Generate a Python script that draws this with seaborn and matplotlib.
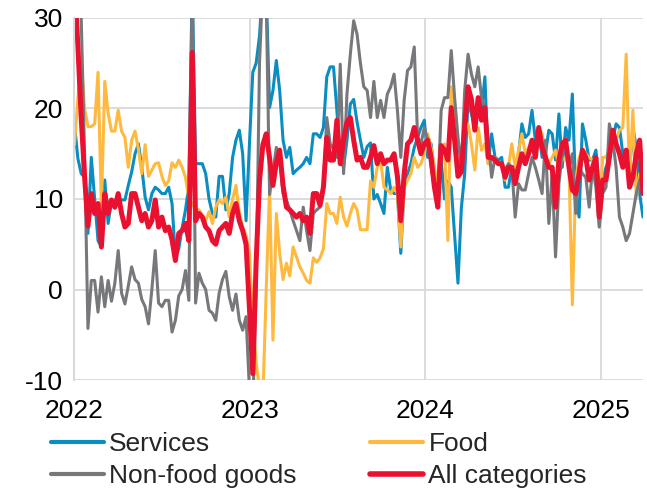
import numpy as np
import pandas as pd
import matplotlib
matplotlib.use("Agg")
import matplotlib.pyplot as plt
import seaborn as sns

# ---- data (weekly, % y/y) ----
start_date = "2022-01-01"
n_weeks = 170

services = [
    18.3, 14.5, 12.8, 12.4, 6.2, 14.6, 10, 5.4, 4.7, 12.1, 7.3, 9.9, 9, 10, 9.9, 9.9, 11.5, 13, 15, 16.1,
    13.5, 10.2, 8.8, 10.6, 11.3, 11, 10.6, 10.6, 11.3,
    9.5, 3.5, 4.5, 6.8, 8.8, 11.5, 34, 13.9, 13.9, 13.9, 12.8, 10, 8.4, 8, 12.5, 12.5, 8.8,
    10.6, 14.6, 16.5, 17.6, 15, 7.6, 16, 24, 25, 28, 34, 33, 20.1, 22, 25.3, 22, 16.5, 14.6, 15.7, 12.8, 13.2,
    13.5, 13.9, 14.6, 13.9, 17.2, 17.2, 16.8, 17.9, 23.5, 24.6, 24.6, 19.8, 14.3, 13.5, 16.5, 20.5, 21, 18.5,
    16.5, 14.6, 15.8, 16.2, 10, 10.5, 9.5, 8.4, 13.5, 11, 10.6, 10.6, 4, 11.3, 12.8, 13.9, 15.7, 16.8, 17.9, 18.7,
    14.6, 16.1, 12.8, 10, 14.3, 10, 12, 11.3, 6, 0.7,
    9, 12.8, 20.9, 19.4, 17.9, 20.9, 19.8, 23.5, 13.9, 17.2, 14.6, 14.3, 14.6, 11.3, 11.3, 13.5, 12.8, 15,
    18.3, 16.8, 17.2, 19.8, 16.5, 17.9, 14.6, 15, 17.6,
    17.2, 14.3, 19.4, 13.5, 17.9, 16.5, 21.6, 10.6, 8, 18.3, 16.5, 14.3, 14.3, 15.4, 11.3, 12.1, 13.5, 14.3,
    16.5, 18.3, 17.9, 15, 14.3, 13.2, 17.9, 15.7, 10.6, 8,
]

food = [
    16, 21, 25.5, 20, 18, 18, 18.3, 24, 9.1, 23, 19.5, 17.5, 17.5, 19.8, 17.5, 16.8, 13.5, 16.5, 17.5, 15.5,
    12.8, 16, 12.5, 13.2, 13.9, 14, 12.5, 11.5, 12,
    14, 13.5, 14.3, 13.5, 12.4, 10, 9.5, 8.8, 8.8, 8.2, 7.6, 8.6, 7.3, 9.1, 9.9, 9.5, 10.2,
    8, 10, 11.5, 8.5, 6.9, 6, 4, -3, -8, -11, -12, 0, 11.3, -5.6, 8.4, 4, 1.1, 2.9, 1.5, 4.7, 3.6,
    2.5, 1.8, 1, 0.7, 3.5, 3, 3.5, 4.5, 9.5, 8.4, 8.4, 7.3, 10.2, 8, 7, 8.4, 9.5, 8.8,
    6.6, 6.6, 6.6, 12, 11.3, 13.5, 14.3, 11.3, 11, 10.6, 11.3, 10.6, 4.7, 11.3, 12.1, 12.8, 14.6, 13.5, 13.9, 15,
    17.2, 15.7, 13.5, 11.3, 15.7, 16.1, 5.4, 22.4, 19, 12.8,
    14.6, 17.9, 18.3, 16.1, 13.2, 17.9, 15.4, 16.1, 13.9, 14.3, 14.6, 13.9, 13.9, 12.1, 13.5, 16.1, 13.5, 15.4,
    17.2, 15, 15.7, 16.1, 15.7, 17.9, 17.2, 14.6, 13.9,
    14.6, 15.4, 13.5, 14.3, 14.6, 13.5, -1.7, 12, 14.6, 15.4, 15, 14.6, 14.3, 12.8, 6.9, 14.6, 14.6, 15.4,
    16.5, 16.5, 17.6, 17.9, 26, 12.1, 19.8, 10.2, 12.8, 11.3,
]

non_food = [
    34, 34, 30, 15, -4.3, 1, 1, -2.5, 1.4, -1.9, 1, -1.3, 0.7, 4.3, -0.4, -1.6, 0.4, 2.5, 1.1, 0.7,
    -1.1, -1.9, -3.8, 0, 4.3, -1.5, -1.9, -1.2, -1.2,
    -4.7, -3.4, -0.7, 0, 2.1, -1.2, 35, -1.5, 1.8, 0.7, 0, -2.3, -2.6, -3.4, -0.4, 1.1, 2,
    -0.8, -2.3, -0.5, -3.4, -4.5, -3, -11, -13, 0, 25, 34, 32, 10.5, 13, 15.7, 14.6, 10.6, 9.9, 8.8, 7.6, 6.5,
    5.4, 9.1, 6.5, 4.3, 8.4, 8.8, 9.1, 11.3, 19, 16.1, 15.5, 14.6, 24.9, 12.8, 21.6, 26, 29.7, 28.2,
    25, 22.4, 22, 19, 23, 19, 20.9, 19, 21.6, 22.4, 23.8, 19.8, 14.6, 20.9, 24.2, 24.6, 26.8, 16.8, 16.1, 17.9,
    16.5, 13.5, 11.3, 10.6, 19.8, 21.2, 21.2, 26.4, 21.2, 16.8,
    13.5, 22, 26, 23.8, 22.4, 24.6, 21.2, 20.1, 16.5, 12.4, 14.6, 13.9, 13.9, 13.2, 13.9, 13.5, 8, 11.7,
    11, 11, 12.8, 14.6, 13.5, 12.1, 10.6, 16.5, 7.3,
    12.8, 3.6, 11.7, 15, 16.5, 13.5, 15, 8.4, 13.5, 12.8, 12.4, 9.1, 13.5, 11.3, 6.9, 10.6, 11.3, 18.3,
    16.5, 13.5, 8, 6.9, 5.4, 6.2, 8.4, 10.6, 12.1, 12.8,
]

all_categories = [
    34, 27, 19, 12.5, 7, 10.6, 8.4, 9.5, 4.7, 10.6, 8.4, 9.9, 9.1, 10.6, 8.4, 6.9, 7.3, 10.6, 10.6, 9.1,
    7.6, 8.4, 6.9, 7.6, 9.9, 6.9, 8, 6.5, 6.9,
    5.5, 3.2, 6.2, 6.5, 7.3, 5.4, 26.2, 7.6, 8.4, 8, 6.9, 6.5, 5.4, 5, 6.5, 6.9, 7.3,
    6.2, 8.4, 9.5, 7.6, 6.5, 5, -2, -9.3, 3, 12, 16, 17.2, 14.5, 11.5, 14, 15.4, 11.5, 9.1, 8.8, 8.4, 8,
    8.4, 7.6, 8, 6.2, 10.6, 10.6, 9.3, 11.3, 16.8, 14.3, 14.3, 18.7, 13.9, 16.5, 18.5, 19, 16.5, 14.3,
    14.6, 13.5, 13.5, 14.6, 15.9, 13.9, 15, 13.9, 14.3, 14.3, 15, 12.5, 7.6, 12.8, 16.1, 16.5, 17.9, 16.5, 15, 16.1,
    16.5, 14.6, 11.3, 9.1, 15.9, 15.4, 14.3, 20.1, 16.5, 12.5,
    13, 18, 22.4, 21, 17.6, 21.2, 18.7, 20.1, 14.6, 14.6, 14.3, 13.9, 13.9, 12.4, 13.5, 13.5, 11.7, 13.5,
    15, 13.9, 15, 16.5, 14.6, 17.9, 15.7, 14.6, 13.5,
    13.5, 9.1, 14.3, 16.1, 16.5, 13.5, 11, 10.6, 12.8, 15.4, 14.6, 12.1, 13.5, 14.6, 8, 12.1, 12.1, 14.6,
    17.6, 16.1, 15, 13.5, 15.4, 11.3, 12.4, 15, 16.5, 10.6,
]

series_names = ["Services", "Food", "Non-food goods", "All categories"]
series_colors = ["#0A8DC1", "#FFB93F", "#77787B", "#E9112F"]
series_widths = [2.2, 2.2, 2.2, 3.6]
year_ticks = ["2022", "2023", "2024", "2025"]
y_ticks = [-10, 0, 10, 20, 30]

# ---- build long table ----
dates = pd.date_range(start_date, periods=n_weeks, freq="7D")
frames = []
for name, vals in zip(series_names, [services, food, non_food, all_categories]):
    frames.append(pd.DataFrame({"date": dates[:len(vals)], "value": vals, "series": name}))
df = pd.concat(frames, ignore_index=True)

sns.set_theme(style="white")
plt.rcParams["font.family"] = ["Liberation Sans", "DejaVu Sans"]

fig = plt.figure(figsize=(6.47, 4.91), dpi=100)
ax = fig.add_axes([74 / 647, 1 - 380 / 491, (643 - 74) / 647, (380 - 18) / 491])

grid_c = "#D9D9D9"
for name, col, lw in zip(series_names, series_colors, series_widths):
    sub = df[df["series"] == name]
    sns.lineplot(data=sub, x="date", y="value", ax=ax, color=col, linewidth=lw,
                 label=name, legend=False)

ax.set_ylim(-10, 30)
ax.set_yticks(y_ticks)
ax.set_yticklabels([str(v) for v in y_ticks])
ax.set_xlim(pd.Timestamp(start_date) - pd.Timedelta(days=1), dates[-1])
ax.set_xticks([pd.Timestamp(f"{y}-01-01") for y in year_ticks])
ax.set_xticklabels(year_ticks)
ax.set_xlabel("")
ax.set_ylabel("")

ax.grid(True, axis="both", color=grid_c, linewidth=1.3)
ax.set_axisbelow(True)
for s in ["top", "right", "bottom"]:
    ax.spines[s].set_visible(False)
ax.spines["left"].set_color(grid_c)
ax.spines["left"].set_linewidth(1.5)

ax.tick_params(axis="y", length=5, width=1.3, color=grid_c, pad=3, labelsize=19, labelcolor="black")
ax.tick_params(axis="x", length=0, pad=14, labelsize=19, labelcolor="black")

handles, labels = ax.get_legend_handles_labels()
order = [0, 2, 1, 3]  # row-wise reading: Services, Food / Non-food goods, All categories
leg = fig.legend([handles[i] for i in order], [labels[i] for i in order],
                 loc="upper left", bbox_to_anchor=(51 / 647, 1 - 432 / 491),
                 ncol=2, frameon=False, fontsize=19, handlelength=2.0, handletextpad=0.2,
                 columnspacing=2.8, labelspacing=0.3, borderpad=0, borderaxespad=0)
for h in leg.get_lines():
    h.set_linewidth(3.0)
leg.get_lines()[3].set_linewidth(4.0)

fig.savefig("out.png", dpi=100)
